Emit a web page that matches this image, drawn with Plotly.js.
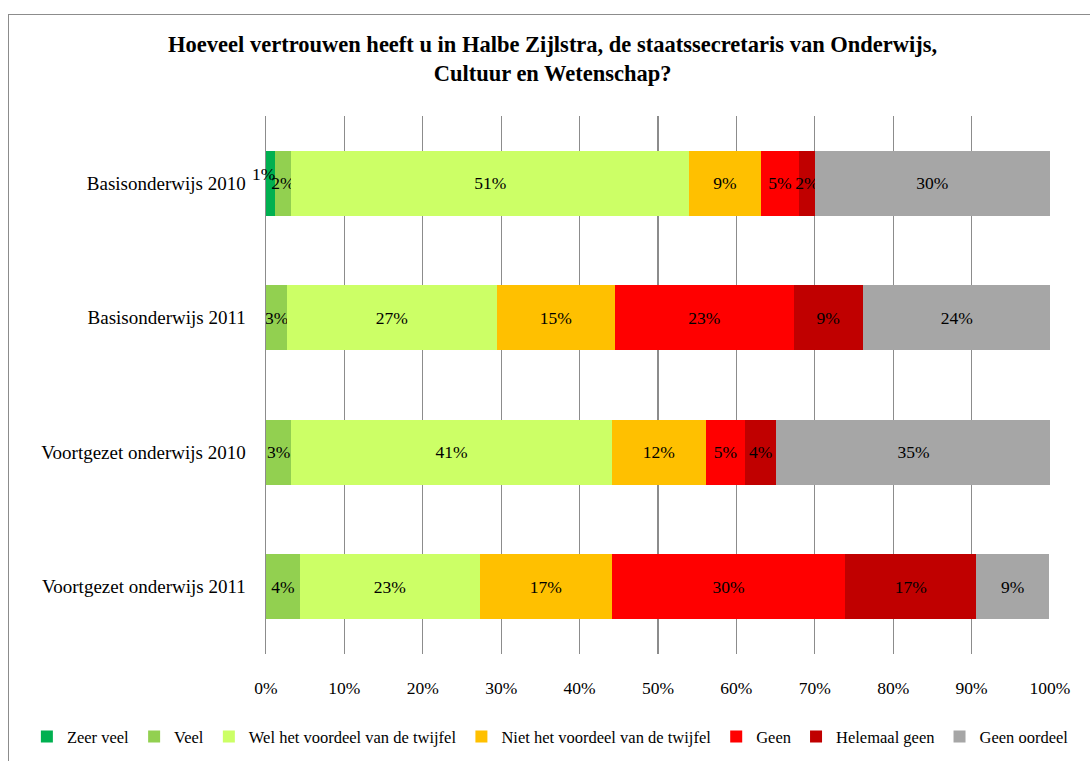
<!DOCTYPE html>
<html>
<head>
<meta charset="utf-8">
<script src="https://cdn.plot.ly/plotly-3.0.1.min.js"></script>
<style>
  html, body { margin: 0; padding: 0; background: #ffffff; overflow: hidden; }
  #frame { position: absolute; left: 8px; top: 14px; width: 1200px; height: 900px; border: 1px solid #8c8c8c; }
  #chart { position: absolute; left: 0; top: 0; width: 1090px; height: 761px; }
</style>
</head>
<body>
<div id="frame"></div>
<div id="chart"></div>
<script>
const categories = ["Basisonderwijs 2010", "Basisonderwijs 2011", "Voortgezet onderwijs 2010", "Voortgezet onderwijs 2011"];
const seriesNames = ["Zeer veel", "Veel", "Wel het voordeel van de twijfel", "Niet het voordeel van de twijfel", "Geen", "Helemaal geen", "Geen oordeel"];
const zeerVeel      = [1.1, 0, 0, 0];
const veel          = [2.1, 2.7, 3.2, 4.3];
const welVoordeel   = [50.8, 26.7, 40.9, 23.0];
const nietVoordeel  = [9.1, 15.1, 12.0, 16.8];
const geen          = [4.9, 22.8, 5.0, 29.8];
const helemaalGeen  = [2.0, 8.8, 4.0, 16.7];
const geenOordeel   = [30.0, 24.0, 35.0, 9.3];
const tickVals = [0, 10, 20, 30, 40, 50, 60, 70, 80, 90, 100];
const tickText = ["0%", "10%", "20%", "30%", "40%", "50%", "60%", "70%", "80%", "90%", "100%"];
const colors = ["#00B050", "#92D050", "#CCFF66", "#FFC000", "#FF0000", "#C00000", "#A6A6A6"];

const FONT = "Liberation Serif, Times New Roman, serif";
const allSeries = [zeerVeel, veel, welVoordeel, nietVoordeel, geen, helemaalGeen, geenOordeel];

const traces = allSeries.map((vals, i) => ({
  type: "bar",
  orientation: "h",
  name: seriesNames[i],
  y: categories,
  x: vals,
  marker: { color: colors[i], line: { width: 0 } },
  text: vals.map(v => (i === 0 || v <= 0) ? "" : Math.round(v) + "%"),
  textposition: "inside",
  insidetextanchor: "middle",
  textangle: 0,
  constraintext: "none",
  textfont: { family: FONT, size: 17.5, color: "#000000" },
  hoverinfo: "name+x"
}));

// Label for the tiny "Zeer veel" segment, placed beside it like the original
const annotations = [];
zeerVeel.forEach((v, k) => {
  if (v > 0) {
    annotations.push({
      x: v / 2, y: categories[k], xref: "x", yref: "y",
      text: Math.round(v) + "%", showarrow: false,
      xshift: -7, yshift: 9,
      font: { family: FONT, size: 17.5, color: "#000000" }
    });
  }
});

const layout = {
  width: 1090, height: 761,
  paper_bgcolor: "rgba(0,0,0,0)",
  plot_bgcolor: "rgba(0,0,0,0)",
  margin: { l: 266, r: 40, t: 116, b: 107, autoexpand: false },
  barmode: "stack",
  bargap: 0.52,
  font: { family: FONT, size: 17, color: "#000000" },
  title: {
    text: "<b>Hoeveel vertrouwen heeft u in Halbe Zijlstra, de staatssecretaris van Onderwijs,<br>Cultuur en Wetenschap?</b>",
    x: 0.507, xanchor: "center", y: 0.932, yanchor: "middle",
    font: { family: FONT, size: 22.5, color: "#000000" }
  },
  xaxis: {
    range: [0, 100],
    tickvals: tickVals, ticktext: tickText,
    showgrid: true, gridcolor: "#8c8c8c", gridwidth: 1.3,
    zeroline: false, showline: false,
    ticks: "", ticklen: 0, ticklabelstandoff: 21,
    tickfont: { family: FONT, size: 17.5, color: "#000000" },
    automargin: false
  },
  yaxis: {
    autorange: "reversed",
    showline: true, linecolor: "#8c8c8c", linewidth: 1.5,
    showgrid: false, ticks: "", ticklabelstandoff: 15,
    tickfont: { family: FONT, size: 19, color: "#000000" },
    automargin: false
  },
  legend: {
    orientation: "h",
    x: -0.305, xanchor: "left",
    y: -0.154, yanchor: "middle",
    traceorder: "normal",
    font: { family: FONT, size: 16.5, color: "#000000" },
    itemwidth: 30,
    tracegroupgap: 0,
    bgcolor: "rgba(0,0,0,0)"
  },
  annotations: annotations,
  showlegend: true
};

Plotly.newPlot("chart", traces, layout, { displayModeBar: false, staticPlot: true });
</script>
</body>
</html>
